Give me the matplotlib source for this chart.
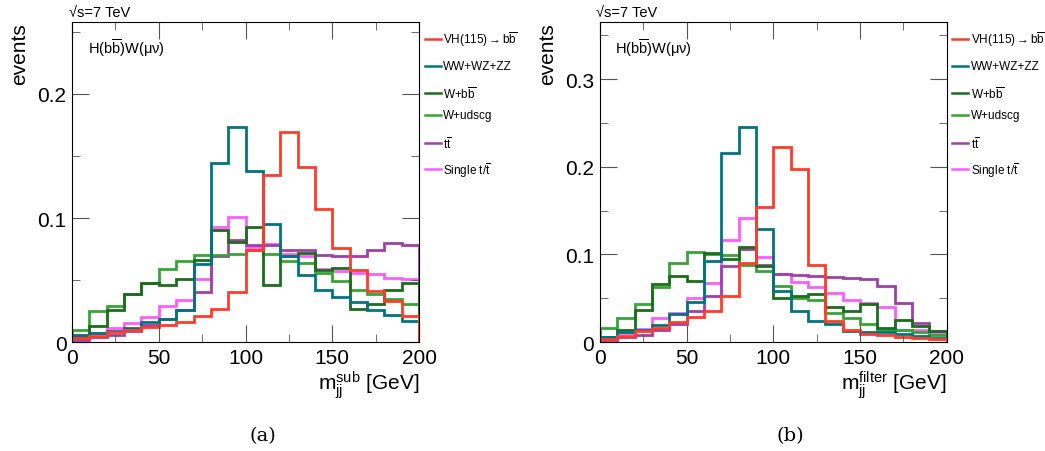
import numpy as np
import matplotlib.pyplot as plt
from matplotlib.ticker import MultipleLocator

plt.rcParams['font.family'] = ['Liberation Sans', 'DejaVu Sans']
plt.rcParams['mathtext.fontset'] = 'custom'
plt.rcParams['mathtext.rm'] = 'Liberation Sans'
plt.rcParams['mathtext.it'] = 'Liberation Sans'
plt.rcParams['mathtext.fallback'] = 'stixsans'

# bin edges, 10 GeV wide
edges = np.arange(0, 210, 10)

labels = [r'VH(115)$\rightarrow$b$\overline{\mathrm{b}}$', 'WW+WZ+ZZ', r'W+b$\overline{\mathrm{b}}$',
          'W+udscg', r't$\overline{\mathrm{t}}$', r'Single t/$\overline{\mathrm{t}}$']
colors = ['#ff3b2a', '#007580', '#1b6e1b', '#35a535', '#a040a8', '#ff5cff']

# (a) m_jj^sub
sub_vh = [0.003, 0.005, 0.008, 0.010, 0.012, 0.014, 0.016, 0.021, 0.027, 0.040,
          0.074, 0.135, 0.169, 0.141, 0.107, 0.076, 0.058, 0.041, 0.033, 0.021]
sub_vv = [0.006, 0.007, 0.009, 0.011, 0.016, 0.019, 0.026, 0.063, 0.144, 0.173,
          0.138, 0.095, 0.069, 0.054, 0.042, 0.036, 0.032, 0.026, 0.022, 0.017]
sub_wbb = [0.004, 0.013, 0.026, 0.039, 0.048, 0.046, 0.051, 0.066, 0.090, 0.081,
           0.093, 0.046, 0.069, 0.072, 0.058, 0.060, 0.027, 0.031, 0.042, 0.048]
sub_wudscg = [0.010, 0.025, 0.029, 0.039, 0.048, 0.059, 0.065, 0.070, 0.070, 0.071,
              0.074, 0.071, 0.065, 0.064, 0.056, 0.049, 0.042, 0.039, 0.035, 0.031]
sub_tt = [0.002, 0.004, 0.006, 0.009, 0.014, 0.019, 0.026, 0.040, 0.069, 0.082,
          0.078, 0.078, 0.074, 0.074, 0.070, 0.069, 0.069, 0.074, 0.080, 0.078]
sub_st = [0.003, 0.007, 0.011, 0.015, 0.020, 0.029, 0.034, 0.051, 0.093, 0.101,
          0.077, 0.079, 0.071, 0.069, 0.059, 0.057, 0.056, 0.055, 0.052, 0.051]

# (b) m_jj^filter
fil_vh = [0.003, 0.007, 0.013, 0.016, 0.023, 0.029, 0.035, 0.052, 0.090, 0.154,
          0.222, 0.197, 0.088, 0.024, 0.014, 0.009, 0.008, 0.006, 0.005, 0.003]
fil_vv = [0.006, 0.012, 0.014, 0.019, 0.032, 0.046, 0.093, 0.216, 0.245, 0.129,
          0.058, 0.036, 0.024, 0.021, 0.013, 0.012, 0.011, 0.009, 0.007, 0.005]
fil_wbb = [0.006, 0.014, 0.037, 0.066, 0.075, 0.070, 0.102, 0.095, 0.108, 0.087,
           0.050, 0.052, 0.055, 0.040, 0.035, 0.043, 0.016, 0.025, 0.018, 0.013]
fil_wudscg = [0.016, 0.027, 0.043, 0.063, 0.090, 0.103, 0.101, 0.099, 0.088, 0.081,
              0.064, 0.050, 0.048, 0.033, 0.028, 0.021, 0.014, 0.014, 0.012, 0.008]
fil_tt = [0.002, 0.006, 0.008, 0.014, 0.021, 0.035, 0.052, 0.087, 0.106, 0.088,
          0.078, 0.076, 0.075, 0.074, 0.073, 0.072, 0.064, 0.044, 0.022, 0.013]
fil_st = [0.004, 0.010, 0.015, 0.027, 0.033, 0.050, 0.067, 0.116, 0.142, 0.097,
          0.078, 0.069, 0.063, 0.056, 0.048, 0.045, 0.040, 0.014, 0.014, 0.010]

panels = [
    ([sub_vh, sub_vv, sub_wbb, sub_wudscg, sub_tt, sub_st], 0.258, 0.1, r'm$_{\mathrm{jj}}^{\mathrm{sub}}$ [GeV]', '(a)'),
    ([fil_vh, fil_vv, fil_wbb, fil_wudscg, fil_tt, fil_st], 0.365, 0.1, r'm$_{\mathrm{jj}}^{\mathrm{filter}}$ [GeV]', '(b)'),
]
lefts = [0.069, 0.574]
legend_y = [0.947, 0.863, 0.778, 0.709, 0.622, 0.540]

fig = plt.figure(figsize=(10.45, 4.52), dpi=100)

for (series, ymax, ystep, xlab, tag), x0 in zip(panels, lefts):
    ax = fig.add_axes([x0, 0.241, 0.332, 0.708])
    # draw in reverse so red ends on top
    for vals, c in list(zip(series, colors))[::-1]:
        ax.stairs(vals, edges, color=c, lw=2)
    ax.set_xlim(0, 200)
    ax.set_ylim(0, ymax)
    ax.xaxis.set_major_locator(MultipleLocator(50))
    ax.xaxis.set_minor_locator(MultipleLocator(25))
    ax.yaxis.set_major_locator(MultipleLocator(ystep))
    ax.yaxis.set_minor_locator(MultipleLocator(ystep / 2))
    ax.yaxis.set_major_formatter(plt.FuncFormatter(lambda v, p: '0' if v == 0 else f'{v:g}'))
    ax.tick_params(which='both', direction='in', top=True, right=True, labelsize=15, color='#555555')
    ax.tick_params(which='major', length=12, pad=4)
    ax.tick_params(which='minor', length=6)
    ax.set_ylabel('events', fontsize=15, loc='top', labelpad=6)
    ax.set_xlabel(xlab, fontsize=15, loc='right', labelpad=1)
    ax.text(-0.01, 1.008, '√s=7 TeV', transform=ax.transAxes, fontsize=10.5, ha='left', va='bottom')
    ax.text(0.045, 0.955, r'H(b$\overline{\mathrm{b}}$)W($\mu\nu$)', transform=ax.transAxes, fontsize=10.5, ha='left', va='top')
    # legend drawn by hand to the right of the frame
    for lab, c, yy in zip(labels, colors, legend_y):
        ax.plot([1.016, 1.062], [yy, yy], color=c, lw=1.8, transform=ax.transAxes, clip_on=False)
        ax.text(1.07, yy, lab, transform=ax.transAxes, fontsize=8.5, ha='left', va='center')
    ax.text(0.55, -0.29, tag, transform=ax.transAxes, fontsize=14, ha='center', va='center', family='DejaVu Serif')

fig.savefig('out.png', dpi=100)
